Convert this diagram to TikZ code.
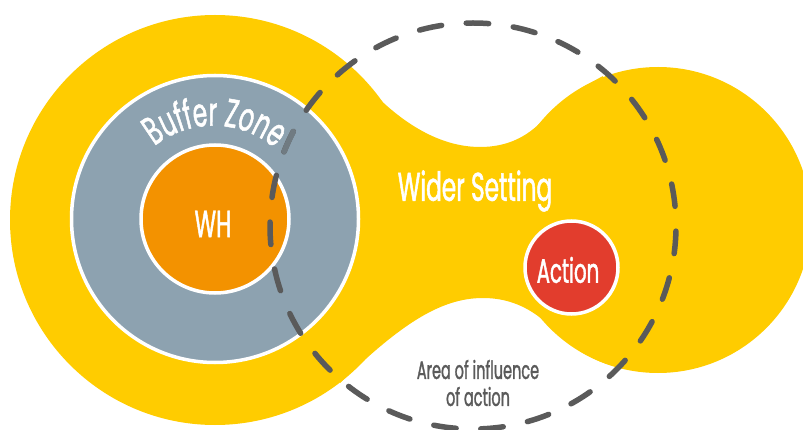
\documentclass[tikz,border=0pt]{standalone}
\usepackage{fontspec}
\setmainfont[FakeStretch=0.58,FakeBold=1.2]{Poppins}
\usetikzlibrary{decorations.text}
\definecolor{settingyellow}{HTML}{FFCC00}
\definecolor{bufferblue}{HTML}{8DA2B0}
\definecolor{whorange}{HTML}{F39200}
\definecolor{actionred}{HTML}{E23D2D}
\definecolor{dashgray}{HTML}{5A5A5A}
\definecolor{dashfaded}{HTML}{707B82}
\tikzset{
  ring/.style={circle, draw=white, line width=3.5pt, inner sep=0pt, text=white},
  influence/.style={draw=dashgray, line width=5.5pt, line cap=round, dash pattern=on 22.5pt off 24.74pt, dash phase=42.09pt},
}
\begin{document}
\begin{tikzpicture}[x=1pt, y=-1pt]
\useasboundingbox (0,0) rectangle (803,430);
% wider setting
\fill[settingyellow] (215,220) circle (205);
\fill[settingyellow] (658,220) circle (153);
\fill[settingyellow] (353,70) .. controls (385,110) and (430,147) .. (480,147)
  .. controls (507,147) and (527,137) .. (543,120)
  .. controls (560,103) and (580,88) .. (603,76)
  -- (622,368) .. controls (590,362) and (565,342) .. (543,320)
  .. controls (525,305) and (505,298) .. (483,298)
  .. controls (440,298) and (400,325) .. (340,383) -- cycle;
% buffer zone and WH
\node[ring, fill=bufferblue, minimum size=287pt] (buffer) at (215,219) {};
\node[ring, fill=whorange, minimum size=148pt] (wh) at (215,219) {};
\node[text=white, font=\fontsize{38}{38}\selectfont] (whtext) at (213,224) {WH};
\node[ring, fill=actionred, minimum size=93pt] (action) at (571.5,267.5) {};
\node[text=white, font=\fontsize{34}{34}\selectfont] (actiontext) at (568,270) {Action};
% text
\path[decorate, decoration={text along path, text align=center,
    text={|\fontsize{40}{40}\selectfont\color{white}|Buffer Zone}}]
  (151,149) arc[start angle=-131, end angle=-47, radius=95];
\node[text=white, font=\fontsize{40}{40}\selectfont] (wider) at (475,191) {Wider Setting};
\node[text=dashgray, align=center, font=\fontsize{25}{27}\selectfont] (area) at (478,383) {Area of influence\\of action};
% area of influence
\draw[influence] (473,226) circle (203);
\draw[dashfaded, line width=5.5pt, line cap=round] (473,226) ++(-152.3:203) arc[start angle=-152.3, end angle=-158.5, radius=203];
\end{tikzpicture}
\end{document}
